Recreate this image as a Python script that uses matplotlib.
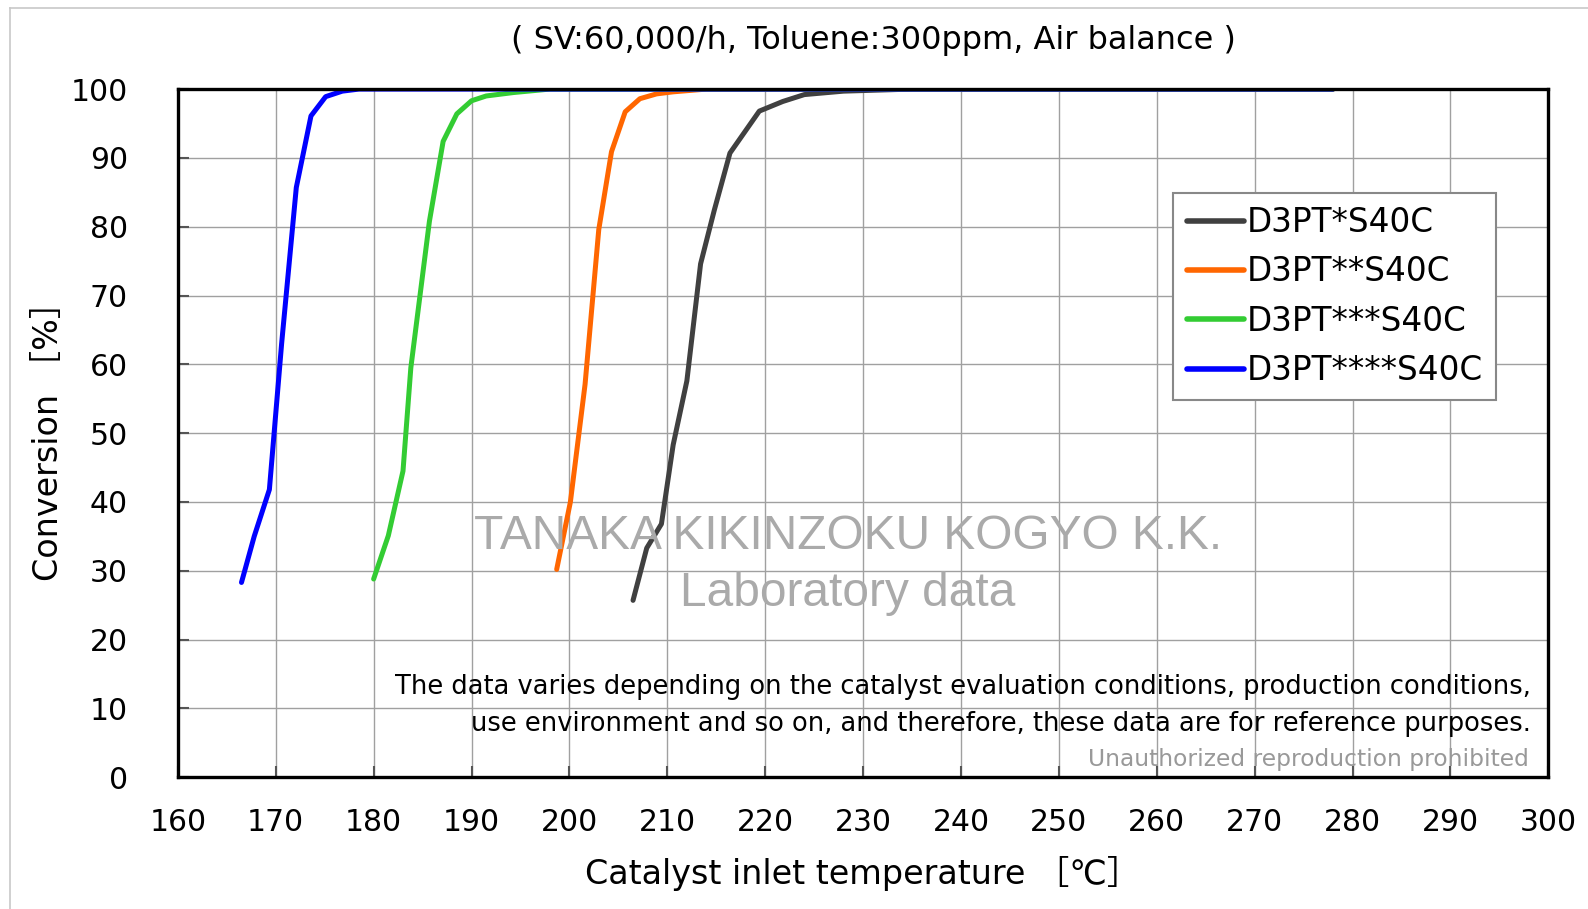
import matplotlib
matplotlib.use('Agg')
import matplotlib.pyplot as plt
from matplotlib.lines import Line2D

plt.rcParams['font.family'] = ['DejaVu Sans', 'Noto Sans CJK JP']

# catalyst inlet temperature [C] / conversion [%]
t_1 = [206.5, 207.9, 209.4, 210.6, 212.0, 213.4, 214.8, 216.4, 219.4, 221.8, 224.0, 228.0, 235.0, 278.0]
c_1 = [25.7, 33.3, 36.8, 48.3, 57.6, 74.6, 82.4, 90.7, 96.8, 98.2, 99.2, 99.7, 100.0, 100.0]

t_2 = [198.7, 200.1, 201.6, 203.0, 204.3, 205.7, 207.2, 208.9, 210.6, 214.0, 278.0]
c_2 = [30.2, 40.0, 57.1, 79.6, 90.9, 96.7, 98.6, 99.3, 99.6, 100.0, 100.0]

t_3 = [180.0, 181.5, 183.0, 183.8, 185.7, 187.1, 188.5, 190.0, 191.5, 194.3, 198.0, 278.0]
c_3 = [28.8, 35.1, 44.5, 59.5, 80.8, 92.4, 96.4, 98.3, 99.0, 99.5, 100.0, 100.0]

t_4 = [166.5, 167.8, 169.35, 170.6, 172.1, 173.6, 175.1, 176.8, 178.5, 278.0]
c_4 = [28.3, 35.0, 41.8, 63.0, 85.7, 96.1, 98.9, 99.7, 100.0, 100.0]

labels = ['D3PT*S40C', 'D3PT**S40C', 'D3PT***S40C', 'D3PT****S40C']
colors = ['#404040', '#FF6600', '#33CC33', '#0000FF']

fig = plt.figure(figsize=(15.88, 9.09), dpi=100)
ax = fig.add_axes([0.112, 0.145, 0.863, 0.757])

for t, c, lab, col in zip([t_1, t_2, t_3, t_4], [c_1, c_2, c_3, c_4], labels, colors):
    ax.plot(t, c, color=col, lw=3.6, label=lab, solid_capstyle='round', zorder=3)

ax.set_xlim(160, 300)
ax.set_ylim(0, 100)
ax.set_xticks(range(160, 301, 10))
ax.set_yticks(range(0, 101, 10))
ax.grid(color='#a0a0a0', lw=1.0)
ax.tick_params(direction='in', length=8, width=1.5, color='#555555', labelsize=21.5)
ax.tick_params(axis='y', pad=36)
ax.tick_params(axis='x', pad=22)
for s in ax.spines.values():
    s.set_linewidth(2.4)
    s.set_color('black')
    s.set_zorder(4)

ax.set_xlabel('Catalyst inlet temperature ［℃］', fontsize=24, labelpad=14)
ax.set_ylabel('Conversion ［%］', fontsize=24, labelpad=4)

leg = ax.legend(loc='upper left', bbox_to_anchor=(0.7265, 0.849), fontsize=23.5,
                handlelength=1.75, handletextpad=0.1, labelspacing=0.5,
                borderpad=0.4, borderaxespad=0, fancybox=False, framealpha=1,
                edgecolor='#888888')
leg.get_frame().set_linewidth(1.5)
for h in leg.get_lines():
    h.set_linewidth(4.0)

fig.text(0.55, 0.955, '( SV:60,000/h, Toluene:300ppm, Air balance )', fontsize=23,
         ha='center', va='center')

# watermark
fig.text(0.534, 0.41, 'TANAKA KIKINZOKU KOGYO K.K.', fontsize=34.5, color='#aaaaaa',
         ha='center', va='center', family='Liberation Sans')
fig.text(0.534, 0.347, 'Laboratory data', fontsize=34.5, color='#aaaaaa',
         ha='center', va='center', family='Liberation Sans')

fig.text(0.964, 0.244, 'The data varies depending on the catalyst evaluation conditions, production conditions,',
         fontsize=18.5, ha='right', va='center')
fig.text(0.964, 0.204, 'use environment and so on, and therefore, these data are for reference purposes.',
         fontsize=18.5, ha='right', va='center')
fig.text(0.963, 0.164, 'Unauthorized reproduction prohibited', fontsize=16.8, color='#999999',
         ha='right', va='center')

# outer frame
fig.add_artist(Line2D([0.0063, 0.0063], [0.0, 0.991], color='#c8c8c8', lw=1.2))
fig.add_artist(Line2D([0.0063, 1.0], [0.991, 0.991], color='#c8c8c8', lw=1.2))

fig.savefig('out.png', dpi=100)
